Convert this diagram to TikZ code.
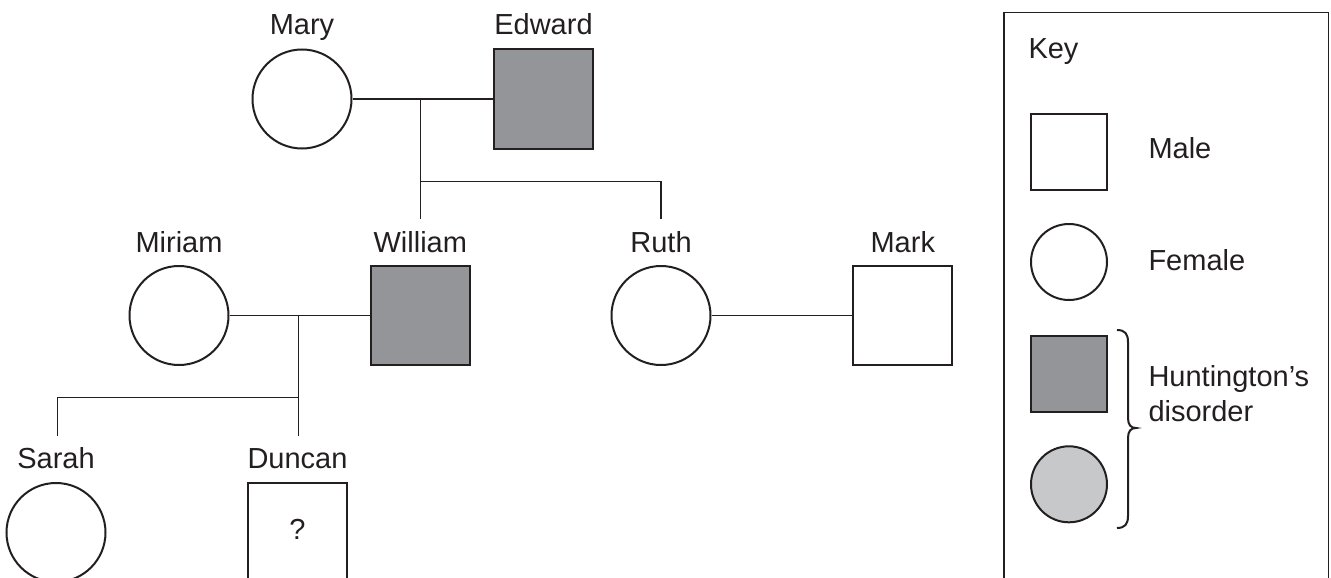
\documentclass[tikz,border=0pt]{standalone}
\usepackage{fontspec}
\setmainfont{Liberation Sans}
\definecolor{ink}{HTML}{231F20}
\definecolor{affm}{HTML}{939598}
\definecolor{afff}{HTML}{C7C8CA}
\begin{document}
\begin{tikzpicture}[x=1pt,y=-1pt,
  every node/.style={text=ink,font=\fontsize{29}{35}\selectfont},
  fem/.style={circle,draw=ink,line width=2pt,minimum size=99pt,inner sep=0pt},
  mal/.style={rectangle,draw=ink,line width=2pt,minimum size=99pt,inner sep=0pt},
  kfem/.style={circle,draw=ink,line width=2pt,minimum size=76pt,inner sep=0pt},
  kmal/.style={rectangle,draw=ink,line width=2pt,minimum size=76pt,inner sep=0pt},
  lbl/.style={anchor=base,inner sep=0pt},
  klbl/.style={anchor=base west,inner sep=0pt,align=left},
  link/.style={draw=ink,line width=1.3pt},
]
\useasboundingbox (0,0) rectangle (1331,578);
\clip (0,0) rectangle (1331,578);
% generation 1
\node[fem] (mary) at (302,99) {};
\node[mal,fill=affm] (edward) at (543.5,99) {};
\node[lbl] (maryl) at (302,35) {Mary};
\node[lbl] (edwardl) at (543.5,35) {Edward};
% generation 2
\node[fem] (miriam) at (179,315.5) {};
\node[mal,fill=affm] (william) at (420.3,315.5) {};
\node[fem] (ruth) at (661,315.5) {};
\node[mal] (mark) at (902.8,315.5) {};
\node[lbl] (miriaml) at (179,252) {Miriam};
\node[lbl] (williaml) at (420.3,252) {William};
\node[lbl] (ruthl) at (661,252) {Ruth};
\node[lbl] (markl) at (902.8,252) {Mark};
% generation 3
\node[fem] (sarah) at (56,532.5) {};
\node[mal] (duncan) at (297.5,532.5) {};
\node[lbl] (sarahl) at (56,468.3) {Sarah};
\node[lbl] (duncanl) at (297.5,468.3) {Duncan};
\node[lbl] (q) at (297.5,539) {?};
% connectors
\coordinate (m1) at (420.3,99);
\coordinate (s1) at (420.3,181.7);
\coordinate (w1) at (420.3,219);
\coordinate (r1) at (661,219);
\coordinate (m2) at (298.3,315.5);
\coordinate (s2) at (298.3,397.7);
\coordinate (d1) at (298.3,436);
\coordinate (a1) at (57.7,436);
\draw[link] (mary.east) -- (edward.west);
\draw[link] (m1) -- (w1);
\draw[link] (s1) -| (r1);
\draw[link] (miriam.east) -- (william.west);
\draw[link] (ruth.east) -- (mark.west);
\draw[link] (m2) -- (d1);
\draw[link] (s2) -| (a1);
% key
\node[draw=ink,line width=1.3pt,rectangle,minimum width=324.4pt,minimum height=620pt,anchor=north west,inner sep=0pt] (keybox) at (1003.3,11.7) {};
\node[klbl] (keyl) at (1028.3,58.5) {Key};
\node[kmal] (kmale) at (1069,151.5) {};
\node[kfem] (kfemale) at (1069,262) {};
\node[kmal,fill=affm] (kaffm) at (1069,373.5) {};
\node[kfem,fill=afff] (kafff) at (1069,484.3) {};
\node[klbl] (malel) at (1148.3,158.3) {Male};
\node[klbl] (femalel) at (1148.3,270) {Female};
\node[klbl] (hdl) at (1148.3,421.7) {Huntington’s\\disorder};
\draw[ink,line width=2pt] (1117,330) .. controls (1125,330) and (1128,334) .. (1128,342)
  -- (1128,418) .. controls (1128,425) and (1131,428) .. (1136,428)
  .. controls (1131,428) and (1128,431) .. (1128,438)
  -- (1128,516) .. controls (1128,524) and (1125,528) .. (1117,528);
\end{tikzpicture}
\end{document}
